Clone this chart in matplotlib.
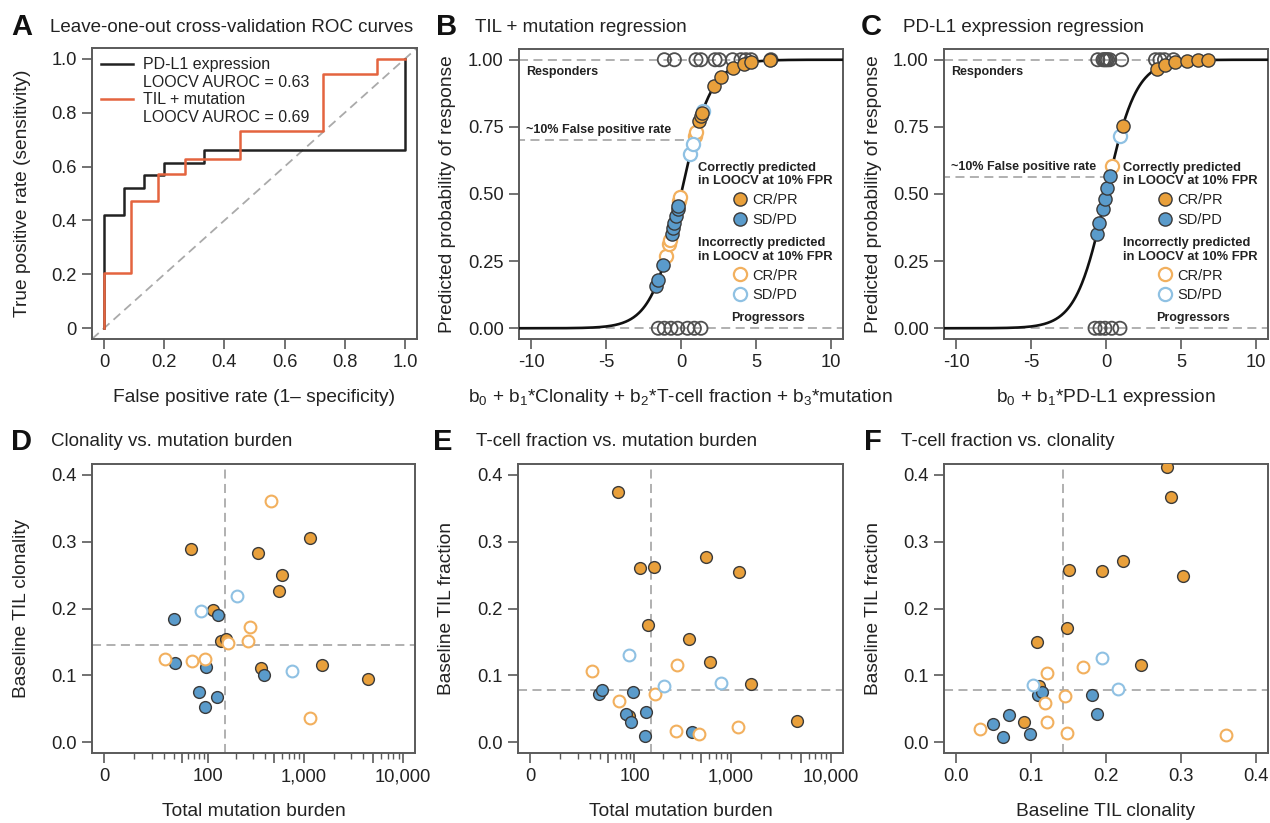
import numpy as np
import matplotlib
matplotlib.use("Agg")
import matplotlib.pyplot as plt
from matplotlib.lines import Line2D
from matplotlib.ticker import FormatStrFormatter

plt.rcParams['font.family'] = ['Liberation Sans', 'DejaVu Sans']
plt.rcParams['mathtext.fontset'] = 'custom'
plt.rcParams['mathtext.rm'] = 'Liberation Sans'
plt.rcParams['mathtext.it'] = 'Liberation Sans'
plt.rcParams['mathtext.bf'] = 'Liberation Sans:bold'
plt.rcParams['axes.unicode_minus'] = False

# ---------------- data ----------------
# A: ROC corner points (step curves)
pdl1_fpr = [0, 0.067, 0.133, 0.2, 0.333, 1.0, 1.0]
pdl1_tpr = [0, 0.42, 0.52, 0.57, 0.615, 0.66, 1.0]
tilmut_fpr = [0, 0.089, 0.18, 0.269, 0.453, 0.726, 0.908, 1.0]
tilmut_tpr = [0, 0.206, 0.471, 0.574, 0.627, 0.733, 0.943, 1.0]

# B: linear predictor values (TIL + mutation model)
b_cr_correct = [1.22, 1.33, 1.40, 2.22, 2.67, 3.44, 4.18, 4.67, 5.96]
b_sd_correct = [-1.67, -1.51, -1.18, -0.62, -0.51, -0.44, -0.33, -0.22, -0.18]
b_cr_wrong = [-1.0, -0.78, -0.71, -0.11, -0.04, 0.93, 1.0]
b_sd_wrong = [0.62, 0.78, 1.44]
b_resp_rug = [-1.11, -0.44, 1.0, 1.33, 2.27, 2.56, 3.44, 4.0, 4.33, 4.67, 6.0]
b_prog_rug = [-1.51, -1.11, -0.67, -0.22, 0.44, 0.89, 1.33]
b_cutoff = 0.70

# C: linear predictor values (PD-L1 model)
c_cr_correct = [1.11, 3.38, 3.93, 4.6, 5.38, 6.11, 6.82]
c_sd_correct = [-0.62, -0.44, -0.22, -0.07, 0.09, 0.27]
c_cr_wrong = [0.42]
c_sd_wrong = [0.93]
c_resp_rug = [-0.55, -0.2, -0.1, 0.0, 0.1, 0.25, 1.04, 3.3, 3.6, 3.9, 4.5]
c_prog_rug = [-0.73, -0.4, -0.07, 0.38, 0.93]
c_cutoff = 0.563

# D: mutation burden vs clonality
d_cr_correct_x = [65, 342, 1151, 594, 558, 114, 138, 156, 370, 1535, 4457]
d_cr_correct_y = [0.289, 0.283, 0.305, 0.250, 0.226, 0.198, 0.151, 0.154, 0.111, 0.115, 0.095]
d_sd_correct_x = [40, 130, 42, 96, 79, 93, 127, 395]
d_sd_correct_y = [0.184, 0.191, 0.118, 0.112, 0.075, 0.053, 0.067, 0.101]
d_cr_wrong_x = [466, 285, 270, 166, 31, 67, 94, 1151]
d_cr_wrong_y = [0.361, 0.173, 0.152, 0.149, 0.125, 0.121, 0.125, 0.036]
d_sd_wrong_x = [85, 204, 762]
d_sd_wrong_y = [0.197, 0.219, 0.106]

# E: mutation burden vs T-cell fraction
e_cr_correct_x = [66, 114, 161, 563, 1192, 140, 374, 614, 1589, 4624, 88]
e_cr_correct_y = [0.3735, 0.261, 0.262, 0.277, 0.254, 0.175, 0.154, 0.120, 0.087, 0.032, 0.039]
e_sd_correct_x = [39, 42, 97, 80, 91, 133, 129, 405]
e_sd_correct_y = [0.072, 0.078, 0.075, 0.042, 0.030, 0.046, 0.009, 0.015]
e_cr_wrong_x = [31, 67, 167, 283, 272, 474, 1165]
e_cr_wrong_y = [0.106, 0.061, 0.072, 0.116, 0.0165, 0.0125, 0.0225]
e_sd_wrong_x = [87, 209, 788]
e_sd_wrong_y = [0.130, 0.084, 0.088]

# F: clonality vs T-cell fraction
f_cr_correct_x = [0.281, 0.287, 0.150, 0.195, 0.223, 0.302, 0.148, 0.108, 0.247, 0.111, 0.090]
f_cr_correct_y = [0.412, 0.367, 0.257, 0.256, 0.271, 0.249, 0.171, 0.150, 0.116, 0.084, 0.030]
f_sd_correct_x = [0.049, 0.063, 0.071, 0.098, 0.109, 0.115, 0.181, 0.188]
f_sd_correct_y = [0.028, 0.0075, 0.041, 0.013, 0.071, 0.075, 0.071, 0.043]
f_cr_wrong_x = [0.032, 0.121, 0.118, 0.121, 0.145, 0.148, 0.169, 0.360]
f_cr_wrong_y = [0.020, 0.104, 0.059, 0.030, 0.069, 0.014, 0.112, 0.0115]
f_sd_wrong_x = [0.102, 0.195, 0.216]
f_sd_wrong_y = [0.085, 0.126, 0.080]

# cut-offs (median lines)
mut_cut = 152
clon_cut = 0.1453
frac_cut = 0.0775
clon_cut_f = 0.1422

# ---------------- styling ----------------
ORANGE = '#E9A03B'
BLUE = '#5A9BCB'
ORANGE_L = '#F2B05E'
BLUE_L = '#8FC1E3'
EDGE = '#3a3a3a'
GREY = '#aaaaaa'
TXT = '#222222'
RED = '#E4643F'

W, H = 1270, 823
fig = plt.figure(figsize=(W / 100, H / 100), dpi=100)


def add_ax(l, t, r, b):
    return fig.add_axes([l / W, 1 - b / H, (r - l) / W, (b - t) / H])


def style(ax):
    for s in ax.spines.values():
        s.set_color('#5a5a5a')
        s.set_linewidth(1.4)
    ax.tick_params(direction='out', length=7, width=1.2, color='#5a5a5a',
                   labelsize=13.2, labelcolor=TXT, pad=4)
    ax.tick_params(which='minor', direction='out', length=4, width=1.0, color='#5a5a5a')


def labels(ax, xl, yl, xlab_y, ylab_x):
    pos = ax.get_position()
    ax.set_xlabel(xl, fontsize=13.8, va='center', color=TXT)
    ax.set_ylabel(yl, fontsize=13.8, va='center', color=TXT)
    ax.xaxis.set_label_coords((pos.x0 + pos.x1) / 2, 1 - xlab_y / H, transform=fig.transFigure)
    ax.yaxis.set_label_coords(ylab_x / W, (pos.y0 + pos.y1) / 2, transform=fig.transFigure)


def header(letter, title, lx, tx, y):
    fig.text(lx / W, 1 - y / H, letter, fontsize=21, fontweight='bold', va='center', color='#111')
    fig.text(tx / W, 1 - y / H, title, fontsize=13.5, va='center', color=TXT)


def logistic(z):
    return 1 / (1 + np.exp(-np.asarray(z, dtype=float)))


# ---------------- A ----------------
axA = add_ax(92, 48, 417, 339)
style(axA)
axA.axline((0, 0), (1, 1), color=GREY, ls=(0, (5, 3)), lw=1.3)
axA.plot(pdl1_fpr, pdl1_tpr, drawstyle='steps-pre', color='#222222', lw=1.8)
axA.plot(tilmut_fpr, tilmut_tpr, drawstyle='steps-pre', color=RED, lw=1.8)
axA.set_xlim(-0.04, 1.04)
axA.set_ylim(-0.04, 1.04)
ticks = [0, 0.2, 0.4, 0.6, 0.8, 1.0]
tl = ['0', '0.2', '0.4', '0.6', '0.8', '1.0']
axA.set_xticks(ticks, tl)
axA.set_yticks(ticks, tl)
hA = [Line2D([], [], color='#222222', lw=1.8), Line2D([], [], color='none'),
      Line2D([], [], color=RED, lw=1.8), Line2D([], [], color='none')]
axA.legend(hA, ['PD-L1 expression', 'LOOCV AUROC = 0.63', 'TIL + mutation', 'LOOCV AUROC = 0.69'],
           loc='upper left', bbox_to_anchor=(0.028, 0.968), frameon=False, fontsize=11.5,
           handlelength=2.0, handletextpad=0.6, borderpad=0, borderaxespad=0, labelspacing=0.16,
           labelcolor=TXT)
labels(axA, 'False positive rate (1\u2013 specificity)', 'True positive rate (sensitivity)', 397, 23)
header('A', 'Leave-one-out cross-validation ROC curves', 11, 50, 27)


# ---------------- B / C ----------------
def regression_panel(ax, cr_ok, sd_ok, cr_bad, sd_bad, rug_r, rug_p, cutoff, fpr_text_y):
    style(ax)
    ax.axhline(1, color=GREY, ls=(0, (5, 3)), lw=1.3, zorder=1)
    ax.axhline(0, color=GREY, ls=(0, (5, 3)), lw=1.3, zorder=1)
    ax.plot([-11, np.log(cutoff / (1 - cutoff))], [cutoff, cutoff], color=GREY, ls=(0, (5, 3)), lw=1.3, zorder=1)
    ax.scatter(rug_r, np.ones(len(rug_r)), s=90, facecolors='none', edgecolors='#505050', lw=1.3, zorder=2)
    ax.scatter(rug_p, np.zeros(len(rug_p)), s=90, facecolors='none', edgecolors='#505050', lw=1.3, zorder=2)
    zz = np.linspace(-11, 11, 500)
    ax.plot(zz, logistic(zz), color='#111111', lw=1.9, zorder=3)
    ax.scatter(cr_bad, logistic(cr_bad), s=90, facecolors='white', edgecolors=ORANGE_L, lw=1.6, zorder=4)
    ax.scatter(sd_bad, logistic(sd_bad), s=90, facecolors='white', edgecolors=BLUE_L, lw=1.6, zorder=4)
    ax.scatter(cr_ok, logistic(cr_ok), s=90, facecolors=ORANGE, edgecolors=EDGE, lw=1.0, zorder=5)
    ax.scatter(sd_ok, logistic(sd_ok), s=90, facecolors=BLUE, edgecolors=EDGE, lw=1.0, zorder=5)
    ax.set_xlim(-10.8, 10.8)
    ax.set_ylim(-0.04, 1.04)
    ax.set_xticks([-10, -5, 0, 5, 10])
    ax.set_yticks([0, 0.25, 0.5, 0.75, 1.0])
    ax.yaxis.set_major_formatter(FormatStrFormatter('%.2f'))
    ax.text(-10.35, 0.955, 'Responders', fontsize=9, fontweight='bold', va='center', color=TXT)
    ax.text(5.8, 0.037, 'Progressors', fontsize=9, fontweight='bold', va='center', ha='center', color=TXT)
    ax.text(-10.35, fpr_text_y, '~10% False positive rate', fontsize=9, fontweight='bold', va='center', color=TXT)
    ok = [Line2D([], [], ls='none', marker='o', ms=9.5, mfc=ORANGE, mec=EDGE, mew=1.0),
          Line2D([], [], ls='none', marker='o', ms=9.5, mfc=BLUE, mec=EDGE, mew=1.0)]
    bad = [Line2D([], [], ls='none', marker='o', ms=9.5, mfc='white', mec=ORANGE_L, mew=1.6),
           Line2D([], [], ls='none', marker='o', ms=9.5, mfc='white', mec=BLUE_L, mew=1.6)]
    kw = dict(frameon=False, fontsize=10.5, handlelength=1.0, handletextpad=0.4, labelspacing=0.4,
              borderpad=0, borderaxespad=0, title_fontproperties={'weight': 'bold', 'size': 9.3},
              loc='upper center', labelcolor=TXT)
    leg1 = ax.legend(ok, ['CR/PR', 'SD/PD'], title='Correctly predicted\nin LOOCV at 10% FPR',
                     bbox_to_anchor=(0.76, 0.612), **kw)
    leg1.get_title().set_color(TXT)
    ax.add_artist(leg1)
    leg2 = ax.legend(bad, ['CR/PR', 'SD/PD'], title='Incorrectly predicted\nin LOOCV at 10% FPR',
                     bbox_to_anchor=(0.76, 0.352), **kw)
    leg2.get_title().set_color(TXT)


axB = add_ax(519, 49, 843, 339)
regression_panel(axB, b_cr_correct, b_sd_correct, b_cr_wrong, b_sd_wrong,
                 b_resp_rug, b_prog_rug, b_cutoff, 0.738)
labels(axB, 'b$_0$ + b$_1$*Clonality + b$_2$*T-cell fraction + b$_3$*mutation',
       'Predicted probability of response', 397, 448)
header('B', 'TIL + mutation regression', 436, 475, 27)

axC = add_ax(944, 49, 1268, 339)
regression_panel(axC, c_cr_correct, c_sd_correct, c_cr_wrong, c_sd_wrong,
                 c_resp_rug, c_prog_rug, c_cutoff, 0.60)
labels(axC, 'b$_0$ + b$_1$*PD-L1 expression', 'Predicted probability of response', 397, 873)
header('C', 'PD-L1 expression regression', 861, 903, 27)


# ---------------- D / E / F ----------------
def fwd(x):
    return np.log10(np.asarray(x, dtype=float) + 10)


def inv(y):
    return 10 ** np.asarray(y, dtype=float) - 10


def scatter_panel(ax, cro, sdo, crb, sdb, vx, hy):
    style(ax)
    ax.axvline(vx, color=GREY, ls=(0, (5, 3)), lw=1.3, zorder=1)
    ax.axhline(hy, color=GREY, ls=(0, (5, 3)), lw=1.3, zorder=1)
    ax.scatter(*cro, s=72, facecolors=ORANGE, edgecolors=EDGE, lw=1.0, zorder=3)
    ax.scatter(*sdo, s=72, facecolors=BLUE, edgecolors=EDGE, lw=1.0, zorder=3)
    ax.scatter(*crb, s=72, facecolors='white', edgecolors=ORANGE_L, lw=1.5, zorder=4)
    ax.scatter(*sdb, s=72, facecolors='white', edgecolors=BLUE_L, lw=1.5, zorder=4)
    ax.set_ylim(-0.016, 0.416)
    ax.set_yticks([0, 0.1, 0.2, 0.3, 0.4])
    ax.yaxis.set_major_formatter(FormatStrFormatter('%.1f'))


def log_axis(ax):
    ax.set_xscale('function', functions=(fwd, inv))
    ax.set_xlim(inv(0.88), inv(4.12))
    ax.set_xticks([0, 50, 100, 500, 1000, 5000, 10000], ['0', '', '100', '', '1,000', '', '10,000'])
    minors = [m * d for d in (10, 100, 1000) for m in (1, 2, 3, 4, 6, 7, 8, 9)]
    ax.set_xticks([v for v in minors if v not in (100, 1000, 10000)], minor=True)


axD = add_ax(92, 464, 415, 753)
scatter_panel(axD, (d_cr_correct_x, d_cr_correct_y), (d_sd_correct_x, d_sd_correct_y),
              (d_cr_wrong_x, d_cr_wrong_y), (d_sd_wrong_x, d_sd_wrong_y), mut_cut, clon_cut)
log_axis(axD)
labels(axD, 'Total mutation burden', 'Baseline TIL clonality', 812, 22)
header('D', 'Clonality vs. mutation burden', 11, 51, 442)

axE = add_ax(518, 464, 843, 753)
scatter_panel(axE, (e_cr_correct_x, e_cr_correct_y), (e_sd_correct_x, e_sd_correct_y),
              (e_cr_wrong_x, e_cr_wrong_y), (e_sd_wrong_x, e_sd_wrong_y), mut_cut, frac_cut)
log_axis(axE)
labels(axE, 'Total mutation burden', 'Baseline TIL fraction', 812, 447)
header('E', 'T-cell fraction vs. mutation burden', 433, 476, 442)

axF = add_ax(944, 464, 1268, 753)
scatter_panel(axF, (f_cr_correct_x, f_cr_correct_y), (f_sd_correct_x, f_sd_correct_y),
              (f_cr_wrong_x, f_cr_wrong_y), (f_sd_wrong_x, f_sd_wrong_y), clon_cut_f, frac_cut)
axF.set_xlim(-0.016, 0.416)
axF.set_xticks([0, 0.1, 0.2, 0.3, 0.4])
axF.xaxis.set_major_formatter(FormatStrFormatter('%.1f'))
labels(axF, 'Baseline TIL clonality', 'Baseline TIL fraction', 812, 873)
header('F', 'T-cell fraction vs. clonality', 864, 901, 442)

fig.savefig('out.png', dpi=100, facecolor='white')
